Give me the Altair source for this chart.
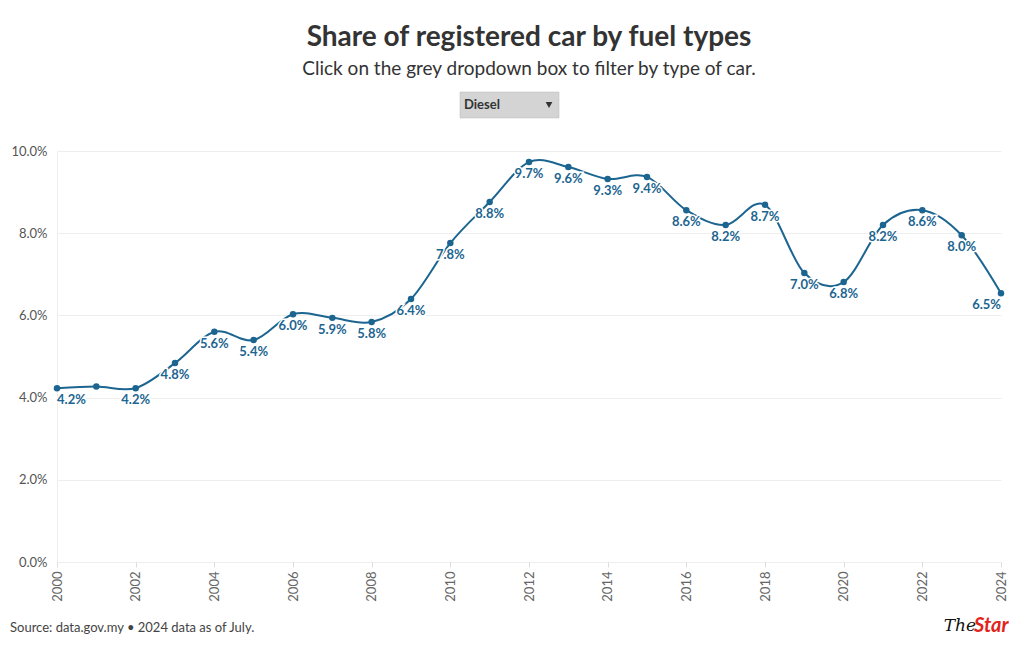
import altair as alt
import pandas as pd

years = list(range(2000, 2025))
share = [4.23, 4.27, 4.23, 4.84, 5.60, 5.40, 6.03, 5.94, 5.84, 6.40, 7.76,
         8.76, 9.73, 9.61, 9.32, 9.37, 8.56, 8.20, 8.69, 7.03, 6.81, 8.20,
         8.56, 7.95, 6.54]
x_ticks = list(range(2000, 2025, 2))
y_ticks = [0, 2, 4, 6, 8, 10]
hidden_label_years = [2001]

FONT = "Lato"
BLUE = "#1c6590"
W, H = 944, 411

df = pd.DataFrame({"year": years, "share": share})
df["label"] = [f"{v:.1f}%" for v in share]

x = alt.X("year:Q", scale=alt.Scale(domain=[2000, 2024], nice=False),
          axis=alt.Axis(values=x_ticks, format="d", labelAngle=270, title=None,
                        grid=False, domain=False, tickColor="#dddddd", tickSize=5,
                        labelColor="#666666", labelFontSize=13, labelPadding=4,
                        labelFont=FONT))
y = alt.Y("share:Q", scale=alt.Scale(domain=[0, 10], nice=False),
          axis=alt.Axis(values=y_ticks, labelExpr="format(datum.value, '.1f') + '%'",
                        title=None, ticks=False, domain=True, domainColor="#eeeeee",
                        gridColor="#eeeeee", labelColor="#555555", labelFontSize=13,
                        labelPadding=10, labelFont=FONT))

base = alt.Chart(df)
line = base.mark_line(color=BLUE, strokeWidth=2, interpolate="cardinal").encode(x=x, y=y)
pts = base.mark_circle(color=BLUE, size=42, opacity=1).encode(x="year:Q", y="share:Q")

hidden = " && ".join(f"datum.year != {yv}" for yv in hidden_label_years)


def labels(filt, align):
    f = f"({filt}) && {hidden}"
    halo = base.transform_filter(f).mark_text(
        align=align, baseline="middle", dy=12, font=FONT, fontSize=13, fontWeight="bold",
        stroke="white", strokeWidth=3, color="white").encode(x="year:Q", y="share:Q", text="label:N")
    txt = base.transform_filter(f).mark_text(
        align=align, baseline="middle", dy=12, font=FONT, fontSize=13, fontWeight="bold",
        color=BLUE).encode(x="year:Q", y="share:Q", text="label:N")
    return halo + txt


lab_mid = labels("datum.year > 2000 && datum.year < 2024", "center")
lab_first = labels("datum.year == 2000", "left")
lab_last = labels("datum.year == 2024", "right")

one = pd.DataFrame({"t": ["Diesel"]})
box = alt.Chart(one).mark_rect(fill="#d4d4d4", stroke="#bbbbbb", strokeWidth=0.5).encode(
    x=alt.value(403), x2=alt.value(502), y=alt.value(-59), y2=alt.value(-33))
box_txt = alt.Chart(one).mark_text(align="left", baseline="middle", font=FONT, fontSize=13,
                                    fontWeight="bold", color="#333333").encode(
    x=alt.value(407), y=alt.value(-46), text="t:N")
box_arrow = alt.Chart(one).mark_point(shape="triangle-down", filled=True, color="#333333",
                                      size=45, opacity=1).encode(
    x=alt.value(492), y=alt.value(-46))

src = pd.DataFrame({"t": ["Source: data.gov.my \u2022 2024 data as of July."]})
footer = alt.Chart(src).mark_text(align="left", baseline="middle", font=FONT, fontSize=13,
                                  color="#444444").encode(
    x=alt.value(-47), y=alt.value(H + 66), text="t:N")

the_df = pd.DataFrame({"t": ["The"]})
star_df = pd.DataFrame({"t": ["Star"]})
logo_the = alt.Chart(the_df).mark_text(align="right", baseline="middle", font="DejaVu Serif",
                                       fontSize=17, fontStyle="italic", color="#111111").encode(
    x=alt.value(919), y=alt.value(H + 64), text="t:N")
logo_star = alt.Chart(star_df).mark_text(align="left", baseline="middle", font=FONT,
                                         fontSize=20, fontStyle="italic", fontWeight="bold",
                                         color="#e2231a").encode(
    x=alt.value(917), y=alt.value(H + 64), text="t:N")

chart = alt.layer(line, pts, lab_mid, lab_first, lab_last, box, box_txt, box_arrow,
                  footer, logo_the, logo_star).properties(
    width=W, height=H,
    padding={"left": 2, "top": 15, "right": 0, "bottom": 4},
    title=alt.TitleParams(
        text="Share of registered car by fuel types",
        subtitle="Click on the grey dropdown box to filter by type of car.",
        anchor="middle", font=FONT, fontSize=28, fontWeight="bold", color="#333333",
        subtitleFont=FONT, subtitleFontSize=19, subtitleColor="#333333",
        subtitlePadding=8, offset=13),
).configure_view(stroke=None)

chart.save("out.html", embed_options={"renderer": "svg", "actions": False})
